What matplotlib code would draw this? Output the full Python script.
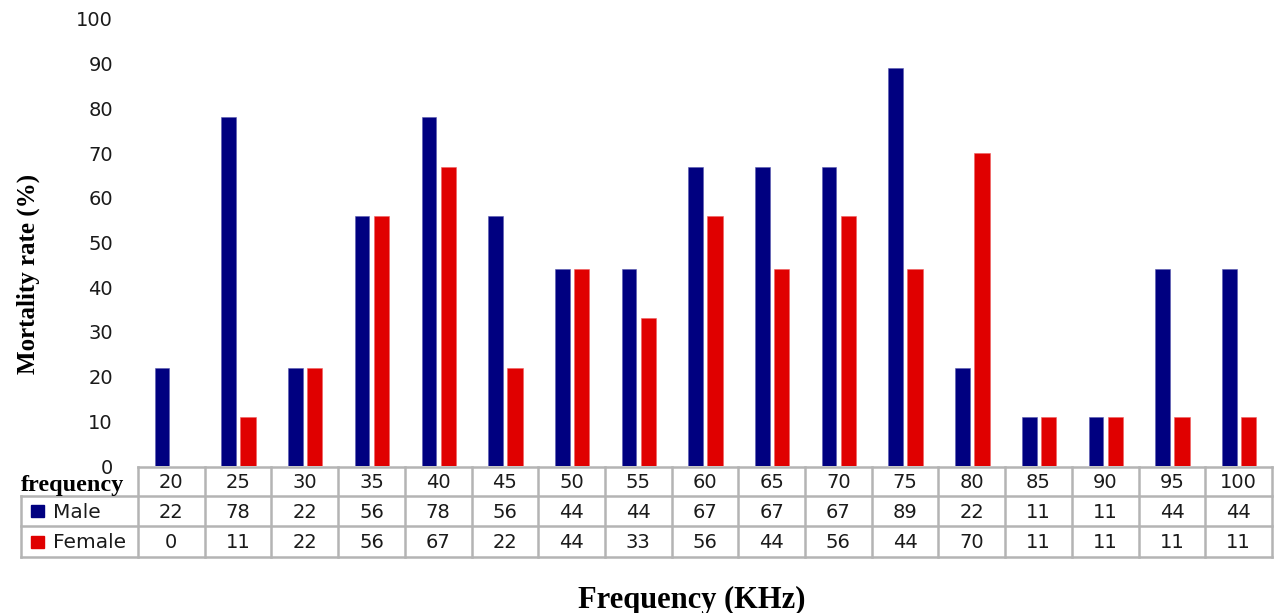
import matplotlib
matplotlib.use("Agg")
import matplotlib.pyplot as plt
from matplotlib.lines import Line2D
from matplotlib.patches import Rectangle
import numpy as np

frequency = [20, 25, 30, 35, 40, 45, 50, 55, 60, 65, 70, 75, 80, 85, 90, 95, 100]
male = [22, 78, 22, 56, 78, 56, 44, 44, 67, 67, 67, 89, 22, 11, 11, 44, 44]
female = [0, 11, 22, 56, 67, 22, 44, 33, 56, 44, 56, 44, 70, 11, 11, 11, 11]

male_color = "#000080"
female_color = "#e00000"
grid_color = "#b4b4b4"

W, H = 1276, 613
fig = plt.figure(figsize=(W / 100, H / 100), dpi=100)

# axes area in pixels (left, top, right, bottom)
L, T, R, B = 138, 19, 1272, 466
ax = fig.add_axes([L / W, 1 - B / H, (R - L) / W, (B - T) / H])

x = np.arange(len(frequency))
ax.bar(x - 0.14, male, width=0.22, color=male_color, edgecolor="#5a5ab0", linewidth=0.4)
ax.bar(x + 0.15, female, width=0.23, color=female_color, edgecolor="#f06060", linewidth=0.4)

ax.set_xlim(-0.5, len(frequency) - 0.5)
ax.set_ylim(0, 100)
ax.set_yticks(range(0, 101, 10))
ax.tick_params(axis="y", length=0, pad=18, labelsize=14, labelcolor="#1a1a1a")
ax.set_xticks([])
for s in ax.spines.values():
    s.set_visible(False)

# data table under the chart
def fy(py):
    return 1 - py / H

def fx(px):
    return px / W

rows = [467, 496, 526, 557]
col_w = (R - L) / len(frequency)
lw = 1.8
fig.add_artist(Line2D([fx(L), fx(R)], [fy(rows[0])] * 2, color=grid_color, lw=lw))
for ry in rows[1:]:
    fig.add_artist(Line2D([fx(21), fx(R)], [fy(ry)] * 2, color=grid_color, lw=lw))
fig.add_artist(Line2D([fx(21)] * 2, [fy(rows[1]), fy(rows[3])], color=grid_color, lw=lw))
for k in range(len(frequency) + 1):
    cx = L + k * col_w
    fig.add_artist(Line2D([fx(cx)] * 2, [fy(rows[0]), fy(rows[3])], color=grid_color, lw=lw))

for k in range(len(frequency)):
    cx = fx(L + (k + 0.5) * col_w)
    for r, val in enumerate([frequency[k], male[k], female[k]]):
        cy = fy((rows[r] + rows[r + 1]) / 2 + 1)
        fig.text(cx, cy, str(val), ha="center", va="center", fontsize=14, color="#1a1a1a")

fig.text(fx(21), fy(486), "frequency", ha="left", va="center", fontsize=17.5,
         family="Liberation Serif", weight="bold")
for r, (name, c) in enumerate([("Male", male_color), ("Female", female_color)]):
    cy = (rows[r + 1] + rows[r + 2]) / 2
    fig.add_artist(Rectangle((fx(31), fy(cy + 6)), 13 / W, 12 / H, color=c))
    fig.text(fx(53), fy(cy + 1), name, ha="left", va="center", fontsize=14.5, color="#1a1a1a")

fig.text(fx(28), fy(274), "Mortality rate (%)", rotation=90, ha="center", va="center",
         fontsize=18, family="Liberation Serif", weight="bold")
fig.text(fx(692), fy(600), "Frequency (KHz)", ha="center", va="center",
         fontsize=22, family="Liberation Serif", weight="bold")

fig.savefig("out.png", dpi=100)
